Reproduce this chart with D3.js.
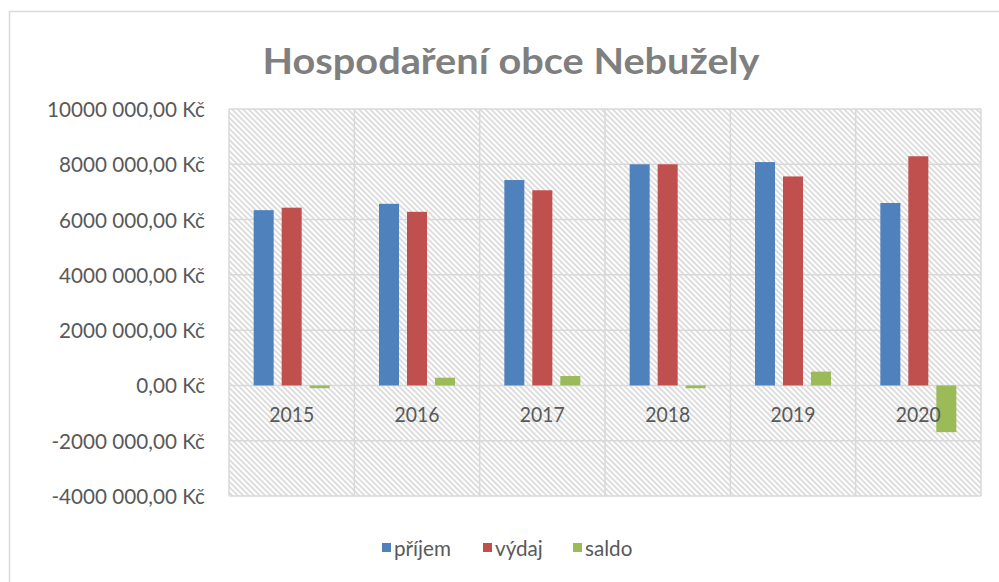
<!DOCTYPE html>
<html>
<head>
<meta charset="utf-8">
<script src="https://cdn.jsdelivr.net/npm/d3@7"></script>
<style>
  html, body { margin: 0; padding: 0; background: #ffffff; }
  svg { display: block; }
</style>
</head>
<body>
<svg id="chart" width="999" height="582"></svg>
<script>
// ---- data ----
const title = "Hospodaření obce Nebužely";
const years = ["2015", "2016", "2017", "2018", "2019", "2020"];
const seriesNames = ["příjem", "výdaj", "saldo"];
const seriesColors = ["#4f81bd", "#c0504d", "#9bbb59"];
const prijem = [6340000, 6570000, 7430000, 8000000, 8080000, 6600000];
const vydaj  = [6430000, 6280000, 7060000, 8000000, 7560000, 8290000];
const saldo  = [-100000, 280000, 340000, -100000, 500000, -1690000];
const yTicks = [-4000000, -2000000, 0, 2000000, 4000000, 6000000, 8000000, 10000000];
const yTickLabels = ["-4000 000,00 Kč", "-2000 000,00 Kč", "0,00 Kč", "2000 000,00 Kč",
                     "4000 000,00 Kč", "6000 000,00 Kč", "8000 000,00 Kč", "10000 000,00 Kč"];

const seriesValues = [prijem, vydaj, saldo];
const FONT = "Lato, 'Noto Sans', sans-serif";
const TXT = "#595959";

const svg = d3.select("#chart");

// helper: horizontal scale so that a string of a given size fits a target width
function widthAt(str, weight, size) {
  const t = svg.append("text").attr("font-family", FONT).attr("font-weight", weight)
    .attr("font-size", size).text(str);
  const w = t.node().getComputedTextLength();
  t.remove();
  return w;
}
function condensedText(g, opts) {
  // opts: x, y, text, size, weight, sx, anchor, fill
  const t = g.append("text")
    .attr("transform", `translate(${opts.x},${opts.y}) scale(${opts.sx},1)`)
    .attr("text-anchor", opts.anchor).attr("dominant-baseline", "central")
    .attr("font-family", FONT).attr("font-weight", opts.weight)
    .attr("font-size", opts.size).attr("fill", opts.fill).text(opts.text);
  return t;
}

// frame
svg.append("rect").attr("x", 9.5).attr("y", 11.5).attr("width", 1100).attr("height", 700)
  .attr("fill", "#fff").attr("stroke", "#d9d9d9").attr("stroke-width", 1.5);

// pattern
const defs = svg.append("defs");
const pat = defs.append("pattern").attr("id", "hatch").attr("patternUnits", "userSpaceOnUse")
  .attr("width", 3.9).attr("height", 3.9).attr("patternTransform", "rotate(-45)");
pat.append("rect").attr("width", 3.9).attr("height", 3.9).attr("fill", "#ffffff");
pat.append("line").attr("x1", 1).attr("y1", 0).attr("x2", 1).attr("y2", 3.9)
  .attr("stroke", "#cdcdcd").attr("stroke-width", 1.3);

// scales
const x = d3.scaleBand().domain(years).range([229, 981]).padding(0);
const inner = d3.scaleBand().domain(seriesNames).range([0, 76]).paddingInner(8 / 28).paddingOuter(0);
const innerOffset = (x.bandwidth() - 76) / 2;
const y = d3.scaleLinear().domain([-4000000, 10000000]).range([496, 109]);

// plot area background
svg.append("rect").attr("x", x.range()[0]).attr("y", y.range()[1])
  .attr("width", x.range()[1] - x.range()[0]).attr("height", y.range()[0] - y.range()[1])
  .attr("fill", "url(#hatch)");

// gridlines
const grid = svg.append("g");
grid.selectAll("line.h").data(yTicks).join("line").attr("class", "h")
  .attr("x1", x.range()[0]).attr("x2", x.range()[1])
  .attr("y1", d => y(d)).attr("y2", d => y(d))
  .attr("stroke", "#d9d9d9").attr("stroke-width", 1.5);
const vEdges = years.map(d => x(d)).concat([x.range()[1]]);
grid.selectAll("line.v").data(vEdges).join("line").attr("class", "v")
  .attr("x1", d => d).attr("x2", d => d)
  .attr("y1", y.range()[1]).attr("y2", y.range()[0])
  .attr("stroke", "#d9d9d9").attr("stroke-width", 1.5);

// bars
seriesNames.forEach((s, i) => {
  svg.append("g").selectAll("rect").data(seriesValues[i]).join("rect")
    .attr("x", (d, j) => x(years[j]) + innerOffset + inner(s))
    .attr("width", inner.bandwidth())
    .attr("y", d => y(Math.max(0, d)))
    .attr("height", d => Math.abs(y(d) - y(0)))
    .attr("fill", seriesColors[i]);
});

// category labels
const catSize = 21.5;
const catSx = 45 / widthAt("2015", 400, catSize);
const catG = svg.append("g");
years.forEach(d => condensedText(catG, {
  x: x(d) + x.bandwidth() / 2, y: y(0) + 28, text: d, size: catSize, weight: 400,
  sx: catSx, anchor: "middle", fill: TXT }));

// y axis labels
const ySize = 20.5;
const ySx = 158 / widthAt("10000 000,00 Kč", 400, ySize);
const yG = svg.append("g");
yTicks.forEach((d, i) => condensedText(yG, {
  x: 205, y: y(d), text: yTickLabels[i], size: ySize, weight: 400,
  sx: ySx, anchor: "end", fill: TXT }));

// title
const tSize = 36;
const tSx = 497 / widthAt(title, 700, tSize);
condensedText(svg, { x: 511, y: 60, text: title, size: tSize, weight: 700,
  sx: tSx, anchor: "middle", fill: "#7f7f7f" });

// legend
const legX = [382, 483, 573];
const leg = svg.append("g");
seriesNames.forEach((s, i) => {
  leg.append("rect").attr("x", legX[i]).attr("y", 543).attr("width", 9).attr("height", 9)
    .attr("fill", seriesColors[i]);
  condensedText(leg, { x: legX[i] + 12, y: 548, text: s, size: ySize, weight: 400,
    sx: ySx, anchor: "start", fill: TXT });
});
</script>
</body>
</html>
